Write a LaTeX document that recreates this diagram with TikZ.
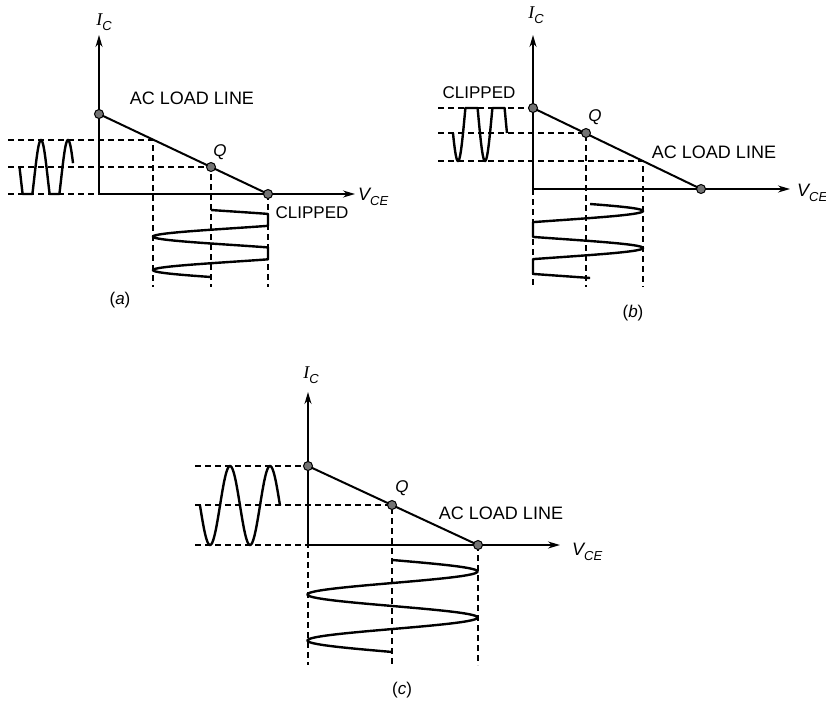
\documentclass[tikz,border=0pt]{standalone}
\usepackage{fontspec}
\setmainfont{Liberation Sans}
\newfontfamily\serifit{Liberation Serif}
\usetikzlibrary{arrows.meta}
\begin{document}
\begin{tikzpicture}[x=1pt,y=-1pt,
  axis/.style={line width=1.5pt,-{Stealth[length=12pt,width=7pt]}},
  loadline/.style={line width=2pt},
  guide/.style={line width=1.3pt,dash pattern=on 6pt off 4pt},
  wave/.style={line width=2.4pt,line join=round},
  dot/.style={circle,draw,fill=black!55,inner sep=0pt,minimum size=9pt,line width=1pt},
  lbl/.style={inner sep=0pt,font=\fontsize{18}{20}\selectfont},
  cliplbl/.style={inner sep=0pt,font=\fontsize{17}{20}\selectfont},
  qlbl/.style={inner sep=0pt,font=\fontsize{17}{20}\selectfont\itshape},
  axl/.style={inner sep=0pt,font=\fontsize{18}{20}\selectfont},
  caplbl/.style={inner sep=0pt,font=\fontsize{17}{20}\selectfont}]
\useasboundingbox (0,0) rectangle (826,702);
\newcommand{\labIC}{{\serifit\itshape I}\raisebox{-0.3em}{\fontsize{13}{13}\selectfont\itshape C}}
\newcommand{\labVCE}{{\itshape V}\raisebox{-0.3em}{\fontsize{13}{13}\selectfont\itshape CE}}

% ================= panel (a) =================
\coordinate (aO) at (99,194);
\coordinate (aYt) at (99,35);
\coordinate (aXt) at (355,194);
\coordinate (aT) at (99,114);
\coordinate (aQ) at (211,167);
\coordinate (aE) at (268,194);
\coordinate (aP) at (153,140);
\coordinate (aL1) at (8,140);
\coordinate (aL2) at (8,167);
\coordinate (aL3) at (8,194);
\coordinate (aB1) at (153,287);
\coordinate (aB2) at (211,287);
\coordinate (aB3) at (268,287);
\draw[guide] (aL1) -- (aP) -- (aB1);
\draw[guide] (aL2) -- (aQ) -- (aB2);
\draw[guide] (aL3) -- (aO);
\draw[guide] (aE) -- (aB3);
\draw[axis] (aO) -- (aYt);
\draw[axis] (aO) -- (aXt);
\draw[loadline] (aT) -- (aE);
\draw[wave] plot[domain=-197:517,samples=300,variable=\t]
  ({34.25+\t/360*27},{min(178-38*sin(\t),194)});
\draw[wave] plot[domain=-16:704,samples=300,variable=\t]
  ({min(233+80*sin(\t),268)},{210+(\t+16)/360*33.5});
\node[dot] (aTd) at (aT) {};
\node[dot] (aQd) at (aQ) {};
\node[dot] (aEd) at (aE) {};
\node[lbl] (aACL) at (192,98) {AC LOAD LINE};
\node[cliplbl] (aCL) at (312,213) {CLIPPED};
\node[qlbl] (aQl) at (220,152) {Q};
\node[axl] (aIC) at (104,22) {\labIC};
\node[axl,anchor=west] (aVCE) at (358,197) {\labVCE};
\node[caplbl] (aCap) at (120,300) {(\textit{a})};

% ================= panel (b) =================
\coordinate (bO) at (533,189);
\coordinate (bYt) at (533,35);
\coordinate (bXt) at (790,189);
\coordinate (bT) at (533,108);
\coordinate (bQ) at (586,133);
\coordinate (bE) at (701,189);
\coordinate (bP) at (643,161);
\coordinate (bL1) at (438,108);
\coordinate (bL2) at (438,133);
\coordinate (bL3) at (438,161);
\coordinate (bB1) at (533,287);
\coordinate (bB2) at (586,287);
\coordinate (bB3) at (643,287);
\draw[guide] (bL1) -- (bT);
\draw[guide] (bL2) -- (bQ) -- (bB2);
\draw[guide] (bL3) -- (bP) -- (bB3);
\draw[guide] (bO) -- (bB1);
\draw[axis] (bO) -- (bYt);
\draw[axis] (bO) -- (bXt);
\draw[loadline] (bT) -- (bE);
\draw[wave] plot[domain=23:743,samples=300,variable=\t]
  ({451.25+\t/360*27},{max(115+46*sin(\t),108)});
\draw[wave] plot[domain=21.7:741.7,samples=300,variable=\t]
  ({max(559+84*sin(\t),533)},{204+(\t-21.7)/360*37});
\node[dot] (bTd) at (bT) {};
\node[dot] (bQd) at (bQ) {};
\node[dot] (bEd) at (bE) {};
\node[lbl] (bACL) at (714,152) {AC LOAD LINE};
\node[cliplbl] (bCL) at (479,93) {CLIPPED};
\node[qlbl] (bQl) at (595,117) {Q};
\node[axl] (bIC) at (536,15) {\labIC};
\node[axl,anchor=west] (bVCE) at (797,193) {\labVCE};
\node[caplbl] (bCap) at (633,313) {(\textit{b})};

% ================= panel (c) =================
\coordinate (cO) at (308,545);
\coordinate (cYt) at (308,392);
\coordinate (cXt) at (560,545);
\coordinate (cT) at (308,466);
\coordinate (cQ) at (392,505);
\coordinate (cE) at (478,545);
\coordinate (cL1) at (195,466);
\coordinate (cL2) at (195,505);
\coordinate (cL3) at (195,545);
\coordinate (cB1) at (308,665);
\coordinate (cB2) at (392,665);
\coordinate (cB3) at (478,665);
\draw[guide] (cL1) -- (cT);
\draw[guide] (cL2) -- (cQ) -- (cB2);
\draw[guide] (cL3) -- (cO) -- (cB1);
\draw[guide] (cE) -- (cB3);
\draw[axis] (cO) -- (cYt);
\draw[axis] (cO) -- (cXt);
\draw[loadline] (cT) -- (cE);
\draw[wave] plot[domain=0:720,samples=300,variable=\t]
  ({200+\t/360*40},{505.5+39.5*sin(\t)});
\draw[wave] plot[domain=0:720,samples=300,variable=\t]
  ({392.5+85*sin(\t)},{560+\t/360*46});
\node[dot] (cTd) at (cT) {};
\node[dot] (cQd) at (cQ) {};
\node[dot] (cEd) at (cE) {};
\node[lbl] (cACL) at (501,513) {AC LOAD LINE};
\node[qlbl] (cQl) at (402,488) {Q};
\node[axl] (cIC) at (311,375) {\labIC};
\node[axl,anchor=west] (cVCE) at (572,552) {\labVCE};
\node[caplbl] (cCap) at (402,690) {(\textit{c})};
\end{tikzpicture}
\end{document}
